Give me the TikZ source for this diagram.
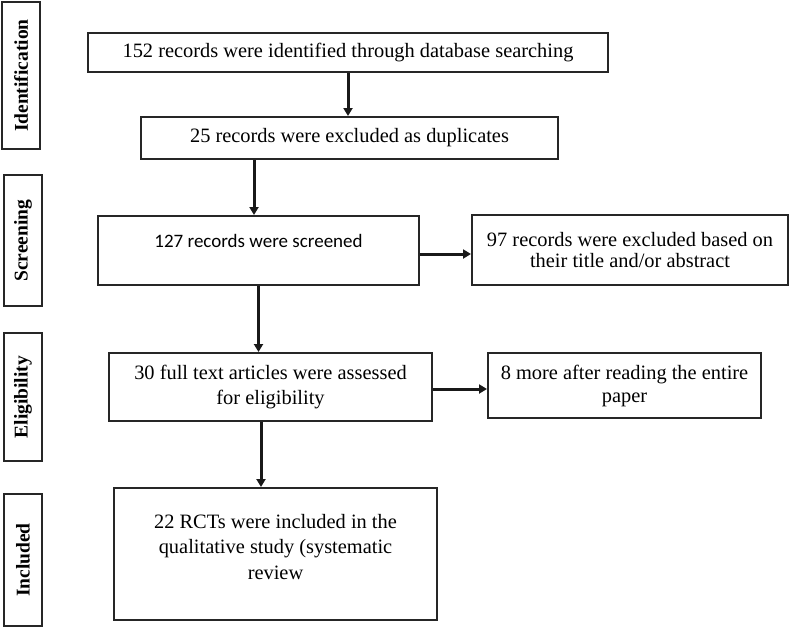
\documentclass[tikz,border=0pt]{standalone}
\usepackage{fontspec}
\setmainfont{Liberation Serif}
\newfontfamily\calfont{Carlito}
\usetikzlibrary{arrows.meta,calc}
\begin{document}
\begin{tikzpicture}[x=1pt,y=-1pt,
  box/.style={draw=black!85, line width=2pt, inner sep=0pt, anchor=north west, align=center,
    font=\fontsize{20.4}{24}\selectfont},
  side/.style={draw=black!85, line width=2.2pt, inner sep=0pt, anchor=north west,
    font=\fontsize{19.5}{22}\selectfont\bfseries},
  arr/.style={line width=3pt, black!90, -{Triangle[length=8pt,width=9pt]}}]
\useasboundingbox (0,0) rectangle (790,627);
\fill[white] (0,0) rectangle (790,627);
% side labels
\node[side, minimum width=38pt, minimum height=147pt] (s1) at (1,1) {\rotatebox{90}{Identification}};
\node[side, minimum width=38pt, minimum height=131pt] (s2) at (3,174) {\rotatebox{90}{Screening}};
\node[side, minimum width=38pt, minimum height=128pt] (s3) at (3,332) {\rotatebox{90}{Eligibility}};
\node[side, minimum width=38pt, minimum height=132pt] (s4) at (3,493) {\rotatebox{90}{Included}};
% boxes
\node[box, minimum width=520pt, minimum height=39pt] (b1) at (87,32) {152 records were identified through database searching};
\node[box, minimum width=417pt, minimum height=42pt] (b2) at (140,116) {25 records were excluded as duplicates};
\node[box, minimum width=321pt, minimum height=69pt, font=\calfont\fontsize{19}{22}\selectfont] (b3) at (97,215) {127 records were screened\rule[-19pt]{0pt}{0pt}};
\node[box, minimum width=316pt, minimum height=70pt, font=\fontsize{20.4}{21.5}\selectfont] (b7) at (471,214) {97 records were excluded based on\\their title and/or abstract};
\node[box, minimum width=323pt, minimum height=68pt, font=\fontsize{20.4}{25}\selectfont] (b4) at (108,352) {30 full text articles were assessed\\for eligibility};
\node[box, minimum width=273pt, minimum height=65pt, font=\fontsize{20.4}{23}\selectfont] (b6) at (487,352) {8 more after reading the entire\\paper};
\node[box, minimum width=323pt, minimum height=132pt, font=\fontsize{20.4}{25.5}\selectfont] (b5) at (113,487) {22 RCTs were included in the\\qualitative study (systematic\\review\rule[-15pt]{0pt}{0pt}};
% arrows
\draw[arr] (b1.south) -- (b1.south |- b2.north);
\draw[arr] ([xshift=-4.5pt]b3.north |- b2.south) -- ([xshift=-4.5pt]b3.north);
\draw[arr] (b3.south) -- (b3.south |- b4.north);
\draw[arr] ([xshift=-9.5pt]b4.south) -- ([xshift=-9.5pt]b4.south |- b5.north);
\draw[arr] ([yshift=-3.5pt]b3.east) -- ([yshift=-3.5pt]b3.east -| b7.west);
\draw[arr] ([yshift=-2pt]b4.east) -- ([yshift=-2pt]b4.east -| b6.west);
\end{tikzpicture}
\end{document}
